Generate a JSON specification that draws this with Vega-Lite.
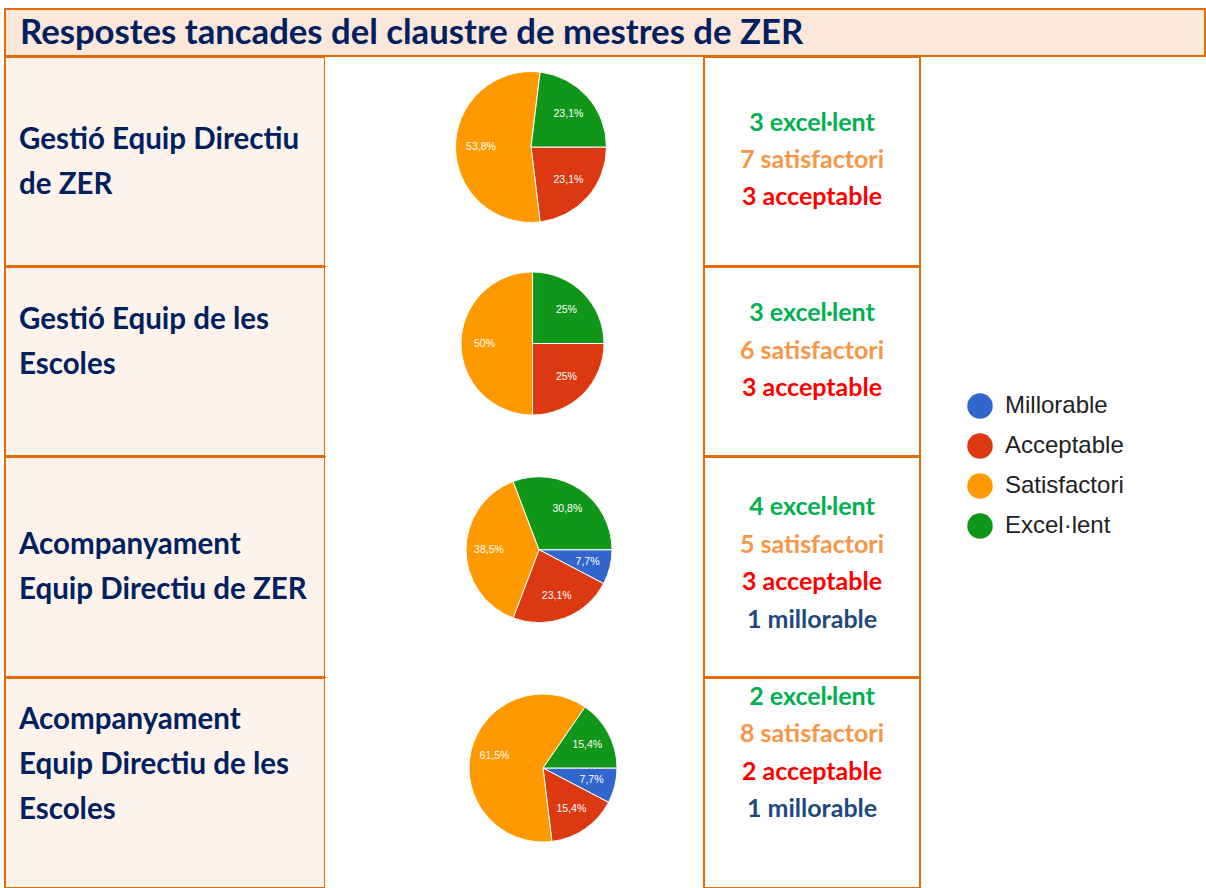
{
  "$schema": "https://vega.github.io/schema/vega-lite/v6.json",
  "padding": {"left": 4, "top": 8, "right": 0, "bottom": 0},
  "background": "white",
  "spacing": -2,
  "config": {
    "view": {"stroke": "#e36c09", "strokeWidth": 2},
    "font": "Lato"
  },
  "datasets": {
    "head": [{"txt": "Respostes tancades del claustre de mestres de ZER"}],
    "titles": [
      {"q": 1, "txt": "Gestió Equip Directiu\nde ZER"},
      {"q": 2, "txt": "Gestió Equip de les\nEscoles"},
      {"q": 3, "txt": "Acompanyament\nEquip Directiu de ZER"},
      {"q": 4, "txt": "Acompanyament\nEquip Directiu de les\nEscoles"}
    ],
    "pies": [
      {"q": 1, "cat": "Acceptable", "k": 2, "n": 3, "pct": "23,1%"},
      {"q": 1, "cat": "Satisfactori", "k": 3, "n": 7, "pct": "53,8%"},
      {"q": 1, "cat": "Excel·lent", "k": 4, "n": 3, "pct": "23,1%"},
      {"q": 2, "cat": "Acceptable", "k": 2, "n": 3, "pct": "25%"},
      {"q": 2, "cat": "Satisfactori", "k": 3, "n": 6, "pct": "50%"},
      {"q": 2, "cat": "Excel·lent", "k": 4, "n": 3, "pct": "25%"},
      {"q": 3, "cat": "Millorable", "k": 1, "n": 1, "pct": "7,7%"},
      {"q": 3, "cat": "Acceptable", "k": 2, "n": 3, "pct": "23,1%"},
      {"q": 3, "cat": "Satisfactori", "k": 3, "n": 5, "pct": "38,5%"},
      {"q": 3, "cat": "Excel·lent", "k": 4, "n": 4, "pct": "30,8%"},
      {"q": 4, "cat": "Millorable", "k": 1, "n": 1, "pct": "7,7%"},
      {"q": 4, "cat": "Acceptable", "k": 2, "n": 2, "pct": "15,4%"},
      {"q": 4, "cat": "Satisfactori", "k": 3, "n": 8, "pct": "61,5%"},
      {"q": 4, "cat": "Excel·lent", "k": 4, "n": 2, "pct": "15,4%"}
    ],
    "counts": [
      {"q": 1, "line": 1, "cat": "Excel·lent", "txt": "3 excel·lent"},
      {"q": 1, "line": 2, "cat": "Satisfactori", "txt": "7 satisfactori"},
      {"q": 1, "line": 3, "cat": "Acceptable", "txt": "3 acceptable"},
      {"q": 2, "line": 1, "cat": "Excel·lent", "txt": "3 excel·lent"},
      {"q": 2, "line": 2, "cat": "Satisfactori", "txt": "6 satisfactori"},
      {"q": 2, "line": 3, "cat": "Acceptable", "txt": "3 acceptable"},
      {"q": 3, "line": 1, "cat": "Excel·lent", "txt": "4 excel·lent"},
      {"q": 3, "line": 2, "cat": "Satisfactori", "txt": "5 satisfactori"},
      {"q": 3, "line": 3, "cat": "Acceptable", "txt": "3 acceptable"},
      {"q": 3, "line": 4, "cat": "Millorable", "txt": "1 millorable"},
      {"q": 4, "line": 1, "cat": "Excel·lent", "txt": "2 excel·lent"},
      {"q": 4, "line": 2, "cat": "Satisfactori", "txt": "8 satisfactori"},
      {"q": 4, "line": 3, "cat": "Acceptable", "txt": "2 acceptable"},
      {"q": 4, "line": 4, "cat": "Millorable", "txt": "1 millorable"}
    ]
  },
  "vconcat": [
    {
      "width": 1200, "height": 47,
      "view": {"fill": "#fce8da"},
      "data": {"name": "head"},
      "mark": {"type": "text", "align": "left", "baseline": "middle", "fontSize": 34.7, "fontWeight": "bold", "color": "#002060", "dx": 15, "dy": 1.5},
      "encoding": {"text": {"field": "txt"}, "x": {"value": 0}}
    },
    {
      "bounds": "flush", "spacing": 0,
      "hconcat": [
        {
          "width": 320, "height": 209, "view": {"fill": "#fdf3eb"},
          "data": {"name": "titles"}, "transform": [{"filter": "datum.q == 1"}],
          "mark": {"type": "text", "align": "left", "baseline": "middle", "lineBreak": "\n", "lineHeight": 45, "fontSize": 29.5, "fontWeight": "bold", "color": "#002060", "dx": 14, "dy": -21.5},
          "encoding": {"text": {"field": "txt"}, "x": {"value": 0}}
        },
        {
          "width": 379, "height": 209, "view": {"fill": "white"},
          "data": {"name": "pies"}, "transform": [{"filter": "datum.q == 1"}],
          "encoding": {
            "theta": {"field": "n", "type": "quantitative", "stack": "normalize", "scale": {"range": [1.5707963, 7.8539816]}},
            "order": {"field": "k", "type": "quantitative"}
          },
          "layer": [
            {
              "mark": {"type": "arc", "outerRadius": 75.5, "stroke": "white", "strokeWidth": 1, "xOffset": 16.5, "yOffset": -14.5},
              "encoding": {
                "color": {"field": "cat", "type": "nominal",
                  "scale": {"domain": ["Millorable", "Acceptable", "Satisfactori", "Excel·lent"], "range": ["#3366cc", "#dc3912", "#ff9900", "#109618"]},
                  "legend": {"orient": "none", "legendX": 962, "legendY": 384, "title": null, "symbolType": "circle", "symbolSize": 650, "symbolStrokeWidth": 0, "labelFontSize": 24, "labelFont": "Liberation Sans", "labelColor": "#222222", "rowPadding": 14, "labelOffset": 12, "padding": 0}}
              }
            },
            {
              "mark": {"type": "text", "radius": 50, "xOffset": 16.5, "yOffset": -14.5, "fill": "white", "fontSize": 10.5, "font": "Liberation Sans"},
              "encoding": {"text": {"field": "pct"}}
            }
          ]
        },
        {
          "width": 216, "height": 209, "view": {"fill": "white"},
          "data": {"name": "counts"}, "transform": [{"filter": "datum.q == 1"}],
          "mark": {"type": "text", "fontSize": 25, "fontWeight": "bold", "baseline": "middle"},
          "encoding": {
            "text": {"field": "txt"},
            "y": {"field": "line", "type": "quantitative", "axis": null, "scale": {"domain": [-0.7838, 4.8648], "reverse": true, "nice": false, "zero": false}},
            "fill": {"field": "cat", "type": "nominal", "legend": null,
              "scale": {"domain": ["Excel·lent", "Satisfactori", "Acceptable", "Millorable"], "range": ["#00b050", "#f79646", "#ff0000", "#1f497d"]}}
          }
        }
      ]
    },
    {
      "bounds": "flush", "spacing": 0,
      "hconcat": [
        {
          "width": 320, "height": 189, "view": {"fill": "#fdf3eb"},
          "data": {"name": "titles"}, "transform": [{"filter": "datum.q == 2"}],
          "mark": {"type": "text", "align": "left", "baseline": "middle", "lineBreak": "\n", "lineHeight": 45, "fontSize": 29.5, "fontWeight": "bold", "color": "#002060", "dx": 14, "dy": -41.5},
          "encoding": {"text": {"field": "txt"}, "x": {"value": 0}}
        },
        {
          "width": 379, "height": 189, "view": {"fill": "white"},
          "data": {"name": "pies"}, "transform": [{"filter": "datum.q == 2"}],
          "encoding": {
            "theta": {"field": "n", "type": "quantitative", "stack": "normalize", "scale": {"range": [1.5707963, 7.8539816]}},
            "order": {"field": "k", "type": "quantitative"}
          },
          "layer": [
            {
              "mark": {"type": "arc", "outerRadius": 71.5, "stroke": "white", "strokeWidth": 1, "xOffset": 18, "yOffset": -18},
              "encoding": {
                "color": {"field": "cat", "type": "nominal",
                  "scale": {"domain": ["Millorable", "Acceptable", "Satisfactori", "Excel·lent"], "range": ["#3366cc", "#dc3912", "#ff9900", "#109618"]}}
              }
            },
            {
              "mark": {"type": "text", "radius": 48, "xOffset": 18, "yOffset": -18, "fill": "white", "fontSize": 10.5, "font": "Liberation Sans"},
              "encoding": {"text": {"field": "pct"}}
            }
          ]
        },
        {
          "width": 216, "height": 189, "view": {"fill": "white"},
          "data": {"name": "counts"}, "transform": [{"filter": "datum.q == 2"}],
          "mark": {"type": "text", "fontSize": 25, "fontWeight": "bold", "baseline": "middle"},
          "encoding": {
            "text": {"field": "txt"},
            "y": {"field": "line", "type": "quantitative", "axis": null, "scale": {"domain": [-0.2267, 4.8133], "reverse": true, "nice": false, "zero": false}},
            "fill": {"field": "cat", "type": "nominal", "legend": null,
              "scale": {"domain": ["Excel·lent", "Satisfactori", "Acceptable", "Millorable"], "range": ["#00b050", "#f79646", "#ff0000", "#1f497d"]}}
          }
        }
      ]
    },
    {
      "bounds": "flush", "spacing": 0,
      "hconcat": [
        {
          "width": 320, "height": 220, "view": {"fill": "#fdf3eb"},
          "data": {"name": "titles"}, "transform": [{"filter": "datum.q == 3"}],
          "mark": {"type": "text", "align": "left", "baseline": "middle", "lineBreak": "\n", "lineHeight": 45, "fontSize": 29.5, "fontWeight": "bold", "color": "#002060", "dx": 14, "dy": -22.5},
          "encoding": {"text": {"field": "txt"}, "x": {"value": 0}}
        },
        {
          "width": 379, "height": 220, "view": {"fill": "white"},
          "data": {"name": "pies"}, "transform": [{"filter": "datum.q == 3"}],
          "encoding": {
            "theta": {"field": "n", "type": "quantitative", "stack": "normalize", "scale": {"range": [1.5707963, 7.8539816]}},
            "order": {"field": "k", "type": "quantitative"}
          },
          "layer": [
            {
              "mark": {"type": "arc", "outerRadius": 73, "stroke": "white", "strokeWidth": 1, "xOffset": 24.5, "yOffset": -17.3},
              "encoding": {
                "color": {"field": "cat", "type": "nominal",
                  "scale": {"domain": ["Millorable", "Acceptable", "Satisfactori", "Excel·lent"], "range": ["#3366cc", "#dc3912", "#ff9900", "#109618"]}}
              }
            },
            {
              "mark": {"type": "text", "radius": 50, "xOffset": 24.5, "yOffset": -17.3, "fill": "white", "fontSize": 10.5, "font": "Liberation Sans"},
              "encoding": {"text": {"field": "pct"}}
            }
          ]
        },
        {
          "width": 216, "height": 220, "view": {"fill": "white"},
          "data": {"name": "counts"}, "transform": [{"filter": "datum.q == 3"}],
          "mark": {"type": "text", "fontSize": 25, "fontWeight": "bold", "baseline": "middle"},
          "encoding": {
            "text": {"field": "txt"},
            "y": {"field": "line", "type": "quantitative", "axis": null, "scale": {"domain": [-0.3263, 5.5092], "reverse": true, "nice": false, "zero": false}},
            "fill": {"field": "cat", "type": "nominal", "legend": null,
              "scale": {"domain": ["Excel·lent", "Satisfactori", "Acceptable", "Millorable"], "range": ["#00b050", "#f79646", "#ff0000", "#1f497d"]}}
          }
        }
      ]
    },
    {
      "bounds": "flush", "spacing": 0,
      "hconcat": [
        {
          "width": 320, "height": 210, "view": {"fill": "#fdf3eb"},
          "data": {"name": "titles"}, "transform": [{"filter": "datum.q == 4"}],
          "mark": {"type": "text", "align": "left", "baseline": "middle", "lineBreak": "\n", "lineHeight": 45, "fontSize": 29.5, "fontWeight": "bold", "color": "#002060", "dx": 14, "dy": -63},
          "encoding": {"text": {"field": "txt"}, "x": {"value": 0}}
        },
        {
          "width": 379, "height": 210, "view": {"fill": "white"},
          "data": {"name": "pies"}, "transform": [{"filter": "datum.q == 4"}],
          "encoding": {
            "theta": {"field": "n", "type": "quantitative", "stack": "normalize", "scale": {"range": [1.5707963, 7.8539816]}},
            "order": {"field": "k", "type": "quantitative"}
          },
          "layer": [
            {
              "mark": {"type": "arc", "outerRadius": 74, "stroke": "white", "strokeWidth": 1, "xOffset": 28.5, "yOffset": -15},
              "encoding": {
                "color": {"field": "cat", "type": "nominal",
                  "scale": {"domain": ["Millorable", "Acceptable", "Satisfactori", "Excel·lent"], "range": ["#3366cc", "#dc3912", "#ff9900", "#109618"]}}
              }
            },
            {
              "mark": {"type": "text", "radius": 50, "xOffset": 28.5, "yOffset": -15, "fill": "white", "fontSize": 10.5, "font": "Liberation Sans"},
              "encoding": {"text": {"field": "pct"}}
            }
          ]
        },
        {
          "width": 216, "height": 210, "view": {"fill": "white"},
          "data": {"name": "counts"}, "transform": [{"filter": "datum.q == 4"}],
          "mark": {"type": "text", "fontSize": 25, "fontWeight": "bold", "baseline": "middle"},
          "encoding": {
            "text": {"field": "txt"},
            "y": {"field": "line", "type": "quantitative", "axis": null, "scale": {"domain": [0.4906, 6.1206], "reverse": true, "nice": false, "zero": false}},
            "fill": {"field": "cat", "type": "nominal", "legend": null,
              "scale": {"domain": ["Excel·lent", "Satisfactori", "Acceptable", "Millorable"], "range": ["#00b050", "#f79646", "#ff0000", "#1f497d"]}}
          }
        }
      ]
    }
  ]
}
